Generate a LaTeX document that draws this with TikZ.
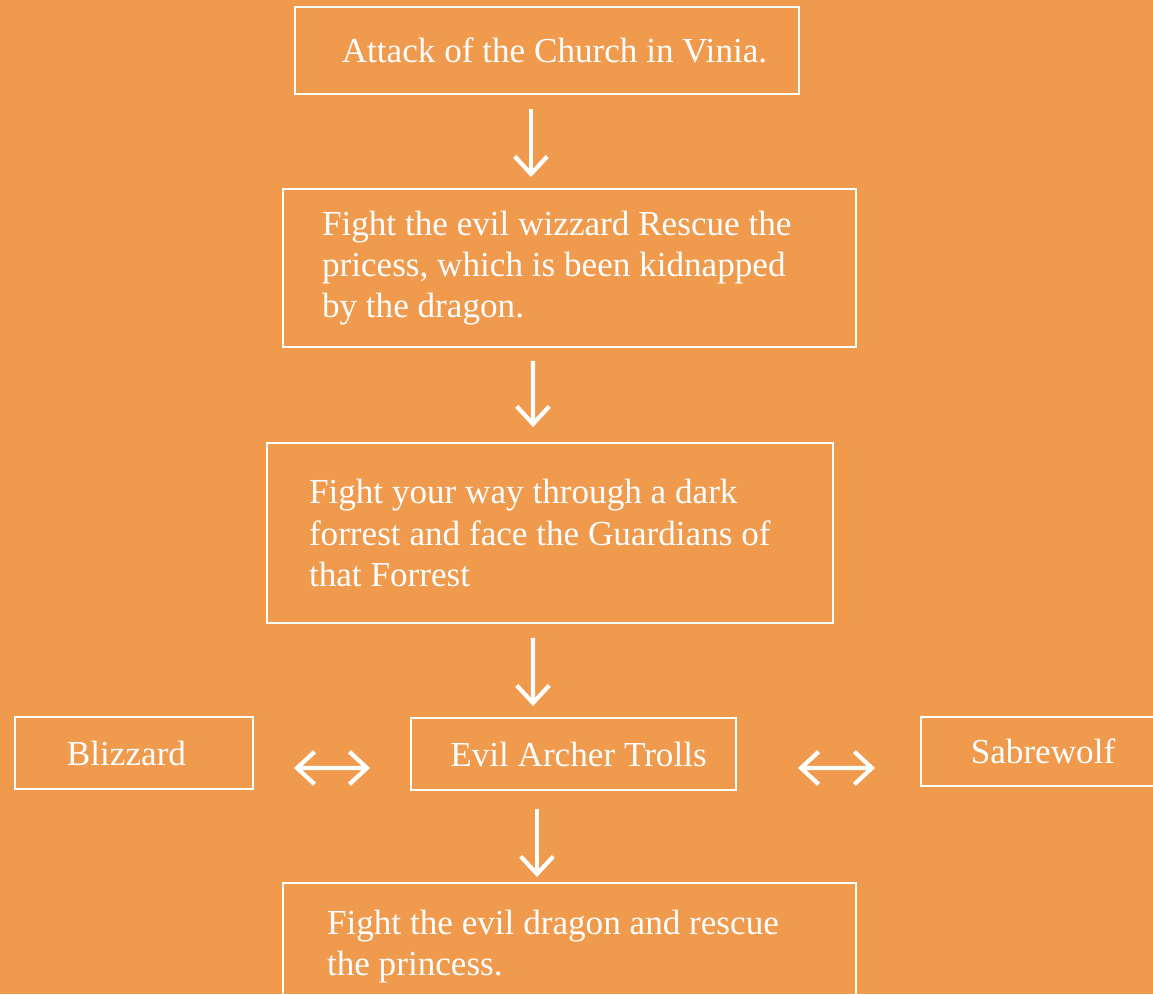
\documentclass[tikz,border=0pt]{standalone}
\usepackage{fontspec}
\setmainfont{Liberation Serif}
\usepackage{tikz}
\usepackage{xcolor}
\usetikzlibrary{arrows.meta,positioning}

\definecolor{bgorange}{RGB}{240,154,78}

\begin{document}
\begin{tikzpicture}[
    box/.style={rectangle, draw=white, line width=1.1pt, text=white, align=center, inner sep=0pt, font=\fontsize{20}{23.5}\selectfont},
    stage/.style={box, align=flush left},
    arrow/.style={-{Straight Barb[length=3.5mm,width=6.5mm]}, draw=white, line width=2.4pt},
    dblarrow/.style={{Straight Barb[length=3.5mm,width=6.5mm]}-{Straight Barb[length=3.5mm,width=6.5mm]}, draw=white, line width=2.4pt}
]

% Background
\fill[bgorange] (0,0) rectangle (23.06,19.88);
\useasboundingbox (0,0) rectangle (23.06,19.88);

% Story stages
\node[box, minimum width=10.08cm, minimum height=1.74cm] (attack) at (10.94,18.87) {\hspace*{0.3cm}Attack of the Church in Vinia.};
\node[stage, text width=9.9cm, minimum width=11.46cm, minimum height=3.16cm] (wizard) at (11.39,14.52) {Fight the evil wizzard Rescue the\\pricess, which is been kidnapped\\by the dragon.};
\node[stage, text width=9.64cm, minimum width=11.32cm, minimum height=3.6cm] (forrest) at (11.0,9.22) {Fight your way through a dark\\forrest and face the Guardians of\\that Forrest};

% Enemies
\node[box, minimum width=4.76cm, minimum height=1.44cm] (blizzard) at (2.68,4.82) {Blizzard\hspace*{0.3cm}};
\node[box, minimum width=6.5cm, minimum height=1.44cm] (archer) at (11.47,4.80) {\hspace*{0.2cm}Evil Archer Trolls};
\node[box, minimum width=4.88cm, minimum height=1.38cm] (sabre) at (20.86,4.85) {Sabrewolf};

% Final stage
\node[stage, text width=9.7cm, minimum width=11.46cm, minimum height=2.54cm] (dragon) at (11.39,0.95) {Fight the evil dragon and rescue\\the princess.};

% Flow arrows
\draw[arrow, shorten <=0.28cm, shorten >=0.22cm] ([xshift=-0.32cm]attack.south) -- ([xshift=-0.77cm]wizard.north);
\draw[arrow, shorten <=0.26cm, shorten >=0.30cm] ([xshift=-0.73cm]wizard.south) -- ([xshift=-0.34cm]forrest.north);
\draw[arrow, shorten <=0.28cm, shorten >=0.22cm] ([xshift=-0.34cm]forrest.south) -- ([xshift=-0.81cm]archer.north);
\draw[arrow, shorten <=0.36cm, shorten >=0.10cm] ([xshift=-0.73cm]archer.south) -- ([xshift=-0.65cm]dragon.north);

% Side links
\draw[dblarrow, shorten <=0.8cm, shorten >=0.8cm] ([yshift=-0.30cm]blizzard.east) -- ([yshift=-0.28cm]archer.west);
\draw[dblarrow, shorten <=1.22cm, shorten >=0.90cm] ([yshift=-0.28cm]archer.east) -- ([yshift=-0.33cm]sabre.west);

\end{tikzpicture}
\end{document}
